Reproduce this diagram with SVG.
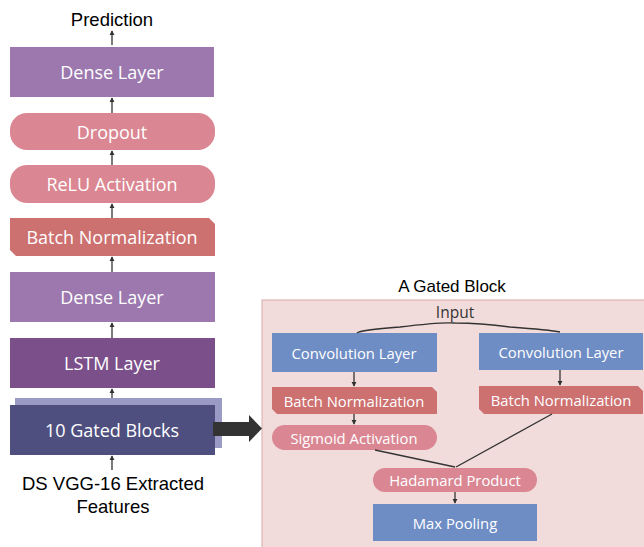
<svg xmlns="http://www.w3.org/2000/svg" width="644" height="547" viewBox="0 0 644 547">
<defs>
<style>
.bt{font-family:"Open Sans","Liberation Sans",sans-serif;fill:#fff;text-anchor:middle;dominant-baseline:central}
.big{font-size:18px}
.sm{font-size:14.8px}
.lb{font-family:"Liberation Sans",Arial,sans-serif;fill:#000;text-anchor:middle}
.dense{fill:#9c78ae}
.pill{fill:#da8793}
.bn{fill:#cd7070}
.conv{fill:#6e8dc5}
.ln{stroke:#333;stroke-width:1.3;fill:none}
</style>
<marker id="ah" viewBox="0 0 6 6" refX="5" refY="3" markerWidth="4" markerHeight="4" orient="auto">
<path d="M0,0 L6,3 L0,6 Z" fill="#333"/>
</marker>
</defs>
<rect width="644" height="547" fill="#fff"/>

<text class="lb" x="112" y="26" font-size="18.5">Prediction</text>

<g id="dense_top"><rect class="dense" x="10" y="47" width="204" height="50"/><text class="bt big" x="112" y="72">Dense Layer</text></g>
<g id="dropout"><rect class="pill" x="10" y="113" width="205" height="37" rx="17"/><text class="bt big" x="112" y="131.5">Dropout</text></g>
<g id="relu"><rect class="pill" x="10" y="165" width="205" height="38" rx="17"/><text class="bt big" x="112" y="184">ReLU Activation</text></g>
<g id="bn_main"><path class="bn" d="M10,218 H209 L215,224 V256 H16 L10,250 Z"/><text class="bt big" x="112" y="237">Batch Normalization</text></g>
<g id="dense_mid"><rect class="dense" x="10" y="272" width="205" height="50"/><text class="bt big" x="112" y="297">Dense Layer</text></g>
<g id="lstm"><rect x="10" y="338" width="205" height="50" fill="#7b4f8a"/><text class="bt big" x="112" y="363">LSTM Layer</text></g>
<g id="gated_blocks"><rect x="15" y="398" width="207" height="50" fill="#9a9ac5"/><rect x="10" y="405" width="205" height="50" fill="#4f4f7f"/><text class="bt big" x="112" y="430">10 Gated Blocks</text></g>

<text class="lb" x="113" y="490" font-size="18.5">DS VGG-16 Extracted</text>
<text class="lb" x="113" y="513" font-size="18.5">Features</text>

<g id="panel">
<rect x="262" y="300" width="390" height="255" fill="#f2dcdb" stroke="#d6aaa5" stroke-width="1"/>
<text class="lb" x="452" y="292" font-size="17">A Gated Block</text>
<text x="455" y="318" font-family="'Open Sans','Liberation Sans',sans-serif" font-size="15.5" fill="#333" text-anchor="middle">Input</text>
</g>

<g id="conv_left"><rect class="conv" x="272" y="333" width="165" height="39"/><text class="bt sm" x="354" y="352.5">Convolution Layer</text></g>
<g id="conv_right"><rect class="conv" x="479" y="333" width="164" height="37"/><text class="bt sm" x="561" y="351.5">Convolution Layer</text></g>
<g id="bn_left"><path class="bn" d="M272,387 H432 L437,392 V414 H277 L272,409 Z"/><text class="bt sm" x="354" y="400.5">Batch Normalization</text></g>
<g id="bn_right"><path class="bn" d="M479,386 H638 L643,391 V414 H484 L479,409 Z"/><text class="bt sm" x="561" y="400">Batch Normalization</text></g>
<g id="sigmoid"><rect class="pill" x="272" y="425" width="165" height="25" rx="12.5"/><text class="bt sm" x="354" y="437.5">Sigmoid Activation</text></g>
<g id="hadamard"><rect class="pill" x="373" y="468" width="164" height="24" rx="12"/><text class="bt sm" x="455" y="480">Hadamard Product</text></g>
<g id="maxpool"><rect class="conv" x="373" y="504" width="164" height="37"/><text class="bt sm" x="455" y="522.5">Max Pooling</text></g>

<g id="connectors">
<line class="ln" x1="112" y1="45" x2="112" y2="31" marker-end="url(#ah)"/>
<line class="ln" x1="112" y1="113" x2="112" y2="98" marker-end="url(#ah)"/>
<line class="ln" x1="112" y1="165" x2="112" y2="151" marker-end="url(#ah)"/>
<line class="ln" x1="112" y1="218" x2="112" y2="204" marker-end="url(#ah)"/>
<line class="ln" x1="112" y1="272" x2="112" y2="257" marker-end="url(#ah)"/>
<line class="ln" x1="112" y1="338" x2="112" y2="323" marker-end="url(#ah)"/>
<line class="ln" x1="112" y1="398" x2="112" y2="389" marker-end="url(#ah)"/>
<line class="ln" x1="112" y1="470" x2="112" y2="456" marker-end="url(#ah)"/>
<path d="M213,422 H249 V415 L262,428.5 L249,442 V436 H213 Z" fill="#333"/>
<path class="ln" d="M357,333 Q360,330 400,327 Q440,322 455,323 Q480,323 510,327 Q550,330 560,332"/>
<line class="ln" x1="354" y1="372" x2="354" y2="386" marker-end="url(#ah)"/>
<line class="ln" x1="560" y1="370" x2="560" y2="385" marker-end="url(#ah)"/>
<line class="ln" x1="354" y1="414" x2="354" y2="424" marker-end="url(#ah)"/>
<line class="ln" x1="375" y1="450" x2="455" y2="467"/>
<line class="ln" x1="552" y1="414" x2="456" y2="467"/>
<line class="ln" x1="455" y1="492" x2="455" y2="503" marker-end="url(#ah)"/>
</g>
</svg>
